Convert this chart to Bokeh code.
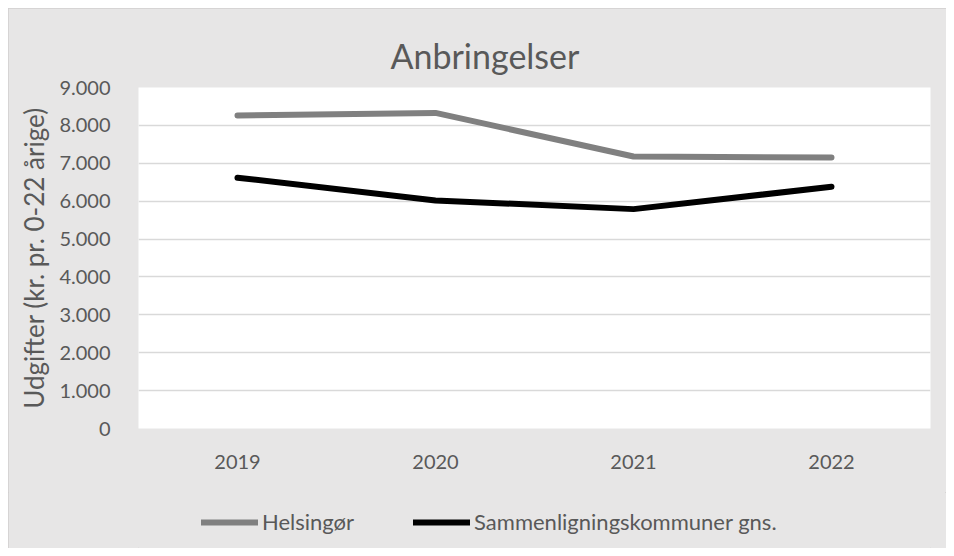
from bokeh.plotting import figure
from bokeh.models import FactorRange, Range1d, FixedTicker, Legend, LegendItem
from bokeh.layouts import column
from bokeh.embed import file_html
from bokeh.resources import INLINE

years = ["2019", "2020", "2021", "2022"]
helsingor = [8260, 8330, 7180, 7150]
sammenlign = [6620, 6020, 5790, 6380]
y_ticks = [0, 1000, 2000, 3000, 4000, 5000, 6000, 7000, 8000, 9000]
y_tick_labels = ["0", "1.000", "2.000", "3.000", "4.000", "5.000", "6.000", "7.000", "8.000", "9.000"]
series_names = ["Helsingør", "Sammenligningskommuner gns."]
series_colors = ["#808080", "#000000"]

FONT = "Lato"
TXT = "#595959"
BG = "#e7e6e6"

p = figure(
    x_range=FactorRange(*years, range_padding=0),
    y_range=Range1d(0, 9000),
    frame_width=792, frame_height=341,
    min_border_left=130, min_border_right=16,
    min_border_top=79, min_border_bottom=64,
    output_backend="svg", toolbar_location=None,
)
p.background_fill_color = "white"
p.border_fill_color = BG
p.outline_line_color = None

p.title.text = "Anbringelser"
p.title.align = "left"
p.title.offset = 252
p.title.standoff = 24
p.title.text_font = FONT
p.title.text_font_size = "34px"
p.title.text_font_style = "normal"
p.title.text_color = TXT

p.line(years, helsingor, line_color=series_colors[0], line_width=6, line_cap="round", line_join="round")
p.line(years, sammenlign, line_color=series_colors[1], line_width=6, line_cap="round", line_join="round")

p.yaxis.ticker = FixedTicker(ticks=y_ticks)
p.yaxis.major_label_overrides = {t: l for t, l in zip(y_ticks, y_tick_labels)}
p.yaxis.axis_label = "Udgifter (kr. pr. 0-22 årige)"
p.yaxis.axis_label_text_font = FONT
p.yaxis.axis_label_text_font_size = "26px"
p.yaxis.axis_label_text_font_style = "normal"
p.yaxis.axis_label_text_color = TXT
p.yaxis.axis_label_standoff = 6
p.yaxis.major_label_standoff = 22

for ax in (p.xaxis[0], p.yaxis[0]):
    ax.axis_line_color = None
    ax.major_tick_line_color = None
    ax.minor_tick_line_color = None
    ax.major_label_text_font = FONT
    ax.major_label_text_font_size = "20px"
    ax.major_label_text_color = TXT
p.xaxis.major_label_standoff = 20

p.xgrid.grid_line_color = None
p.ygrid.grid_line_color = "#d9d9d9"
p.ygrid.grid_line_width = 1.5
p.ygrid.ticker = FixedTicker(ticks=y_ticks)

# legend strip below the chart (series drawn out of view; only the legend shows)
pl = figure(
    width=938, height=56,
    x_range=FactorRange(*years, range_padding=0), y_range=Range1d(20000, 30000),
    x_axis_type=None, y_axis_type=None,
    min_border=0, output_backend="svg", toolbar_location=None,
)
pl.background_fill_color = BG
pl.border_fill_color = BG
pl.outline_line_color = None
pl.xgrid.grid_line_color = None
pl.ygrid.grid_line_color = None
lr1 = pl.line(years, helsingor, line_color=series_colors[0], line_width=6, line_cap="round")
lr2 = pl.line(years, sammenlign, line_color=series_colors[1], line_width=6, line_cap="round")

legend = Legend(
    items=[LegendItem(label=series_names[0], renderers=[lr1]),
           LegendItem(label=series_names[1], renderers=[lr2])],
    orientation="horizontal",
    location=(63, 13),
    padding=0, margin=0, spacing=59,
    glyph_width=57, label_standoff=4,
    label_text_font=FONT, label_text_font_size="22px", label_text_color=TXT,
    background_fill_alpha=0, border_line_alpha=0,
)
pl.add_layout(legend)

layout = column(p, pl, spacing=0)
layout.margin = (8, 0, 0, 8)
layout.styles = {"background-color": BG, "outline": "1px solid #d0cece", "outline-offset": "-1px"}

open("out.html", "w").write(file_html(layout, INLINE))
